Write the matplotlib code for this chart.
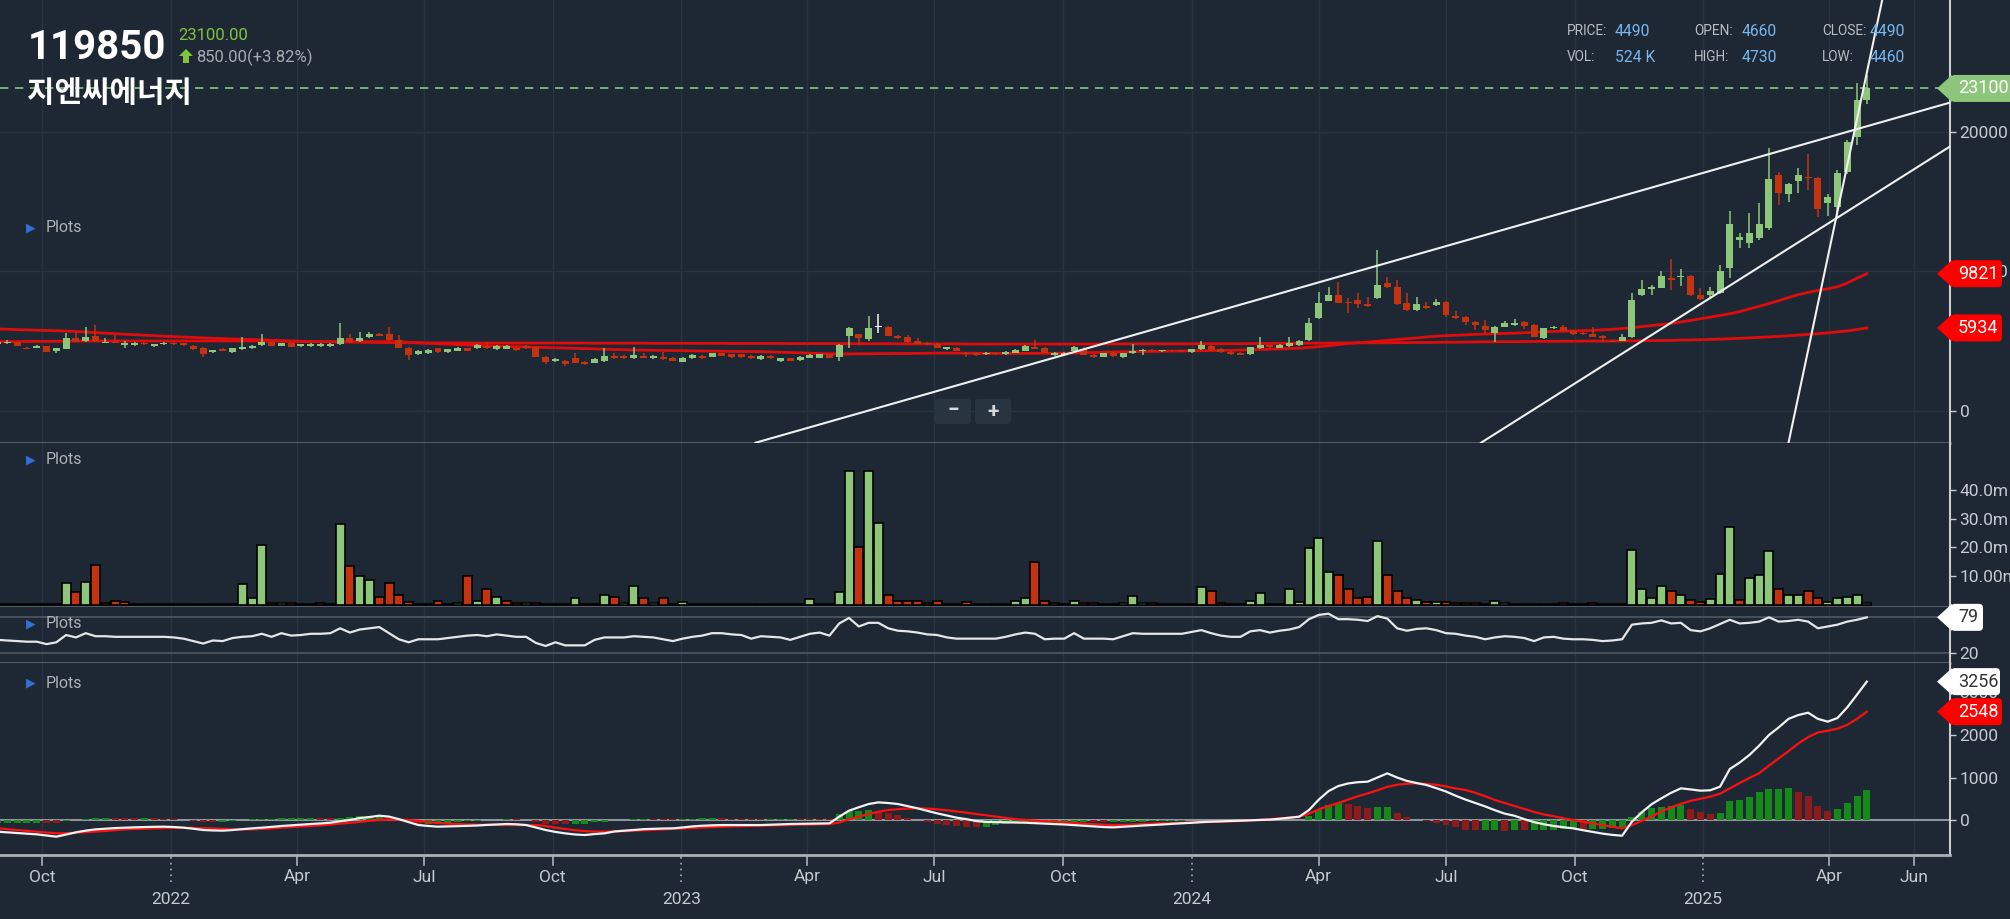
import numpy as np
import pandas as pd
import matplotlib
matplotlib.use("Agg")
import matplotlib.pyplot as plt
import matplotlib.dates as mdates
from matplotlib import font_manager
from matplotlib.patches import Polygon, FancyBboxPatch
from matplotlib.transforms import IdentityTransform, blended_transform_factory

# 119850 지엔씨에너지 - weekly candles, Aug 2021 .. Apr 2025
weeks = pd.date_range('2021-08-30', periods=192, freq='W-MON')
hover_week = pd.Timestamp('2023-05-22')

opens = [4760, 4830, 4900, 4520, 4520, 4610, 4300, 4420, 5190, 5000,
         5380, 4880, 4950, 4710, 4710, 4880, 4610, 4760, 4880, 4830,
         4640, 4520, 4210, 4450, 4230, 4420, 4470, 4710, 4900, 4660,
         4880, 4610, 4640, 4640, 4610, 4760, 5190, 5000, 5280, 5520,
         5470, 5070, 4520, 4060, 4140, 4470, 4210, 4300, 4470, 4470,
         4660, 4420, 4450, 4520, 4660, 4540, 3870, 3560, 3590, 3800,
         3510, 3440, 3540, 3950, 3950, 3750, 3950, 3750, 3830, 3800,
         3520, 3780, 3920, 3870, 4110, 4040, 4040, 3920, 3710, 3920,
         3560, 3750, 3630, 3800, 3800, 4040, 3870, 5380, 5470, 5120,
         6000, 6020, 5380, 5260, 5000, 4880, 4780, 4420, 4520, 4160,
         4160, 4060, 4160,
         4070, 4160, 4310, 4540, 4470, 4000, 3970, 4310, 4400, 4000,
         3880, 4160, 3830, 4120, 4280, 4350, 4260, 4280, 4300, 4210,
         4400, 4640, 4450, 4230, 4160, 4070, 4500, 4690, 4520, 4640,
         4710, 5070, 6670, 7890, 8270, 7770, 7940, 7650, 8060, 9130,
         8890, 7750, 7220, 7530, 7580, 7820, 6790, 6740, 6340, 6100,
         5600, 6030, 6170, 6340, 6150, 5190, 5910, 6030, 5740, 5600,
         5500, 5360, 5000, 5020, 5260, 8300, 8700, 8820, 9490, 9610,
         9660, 8270, 8270, 8420, 10210, 12240, 12050, 12360, 13070, 16900,
         15530, 16490, 16780, 16660, 14870, 14630, 17130, 19650, 22250]
highs = [4950, 5070, 4950, 4570, 4690, 4660, 4520, 5590, 5670, 6020,
         6140, 5190, 5430, 5000, 4950, 4930, 4810, 4950, 4950, 4880,
         4690, 4570, 4350, 4520, 4520, 5260, 4710, 5500, 4950, 4880,
         4930, 4810, 4830, 4830, 4850, 6260, 5500, 5620, 5670, 5570,
         6020, 5430, 4570, 4380, 4420, 4520, 4450, 4570, 4520, 4760,
         4950, 4710, 4710, 4570, 4710, 4590, 3920, 3780, 3640, 4110,
         3560, 3750, 4520, 4160, 4000, 4540, 4110, 3990, 4230, 3850,
         3850, 4040, 3970, 4160, 4160, 4090, 4090, 3970, 3970, 3970,
         3800, 3800, 3920, 4040, 4090, 4090, 4760, 6000, 5520, 6790,
         6910, 6100, 5450, 5430, 5190, 4930, 4830, 4590, 4570, 4230,
         4210, 4200, 4210,
         4260, 4450, 4710, 5070, 4550, 4180, 4180, 4640, 4590, 4050,
         4160, 4210, 4160, 4760, 4400, 4450, 4350, 4330, 4350, 4450,
         5000, 4710, 4500, 4280, 4210, 4590, 5260, 4740, 4760, 5260,
         5050, 6670, 8490, 8890, 9250, 8060, 8420, 8180, 11520, 9560,
         9370, 8420, 8180, 7820, 7990, 7890, 7170, 6790, 6400, 6500,
         6070, 6460, 6550, 6400, 6200, 5950, 6080, 6150, 5790, 5650,
         6030, 5410, 5050, 5500, 8420, 9370, 9010, 10040, 10880, 10140,
         9700, 8800, 8890, 10450, 14320, 12720, 14200, 14870, 18810, 17140,
         16300, 17370, 18400, 16780, 15530, 17250, 19400, 23470, 24060]
lows = [4710, 4780, 4620, 4400, 4470, 4180, 4110, 4400, 4900, 4950,
        4950, 4850, 4850, 4520, 4660, 4710, 4570, 4710, 4710, 4660,
        4380, 3830, 4160, 4280, 4160, 4380, 4420, 4660, 4610, 4620,
        4540, 4570, 4590, 4590, 4570, 4710, 4850, 4950, 5230, 5330,
        5000, 4470, 3630, 4020, 4090, 4140, 4160, 4260, 4260, 4420,
        4420, 4380, 4400, 4280, 4420, 3850, 3320, 3510, 3230, 3400,
        3300, 3400, 3490, 3710, 3730, 3710, 3760, 3710, 3640, 3540,
        3470, 3730, 3700, 3830, 3900, 3800, 3800, 3700, 3660, 3700,
        3510, 3540, 3590, 3750, 3750, 3750, 3560, 4520, 4710, 5000,
        5540, 5350, 5140, 4850, 4780, 4710, 4470, 4380, 4260, 3870,
        3950, 4010, 3990,
        4020, 4110, 4260, 4400, 4110, 3950, 3920, 4260, 3970, 3780,
        3830, 3880, 3780, 4070, 3990, 4230, 4210, 4210, 4210, 4160,
        4350, 4300, 4160, 4020, 3970, 4020, 4450, 4500, 4470, 4590,
        4660, 5020, 6600, 7840, 7700, 6980, 7340, 7460, 7990, 8800,
        7600, 7170, 7170, 7300, 7530, 6740, 6600, 6150, 5790, 5550,
        4950, 5980, 6100, 5840, 5260, 5140, 5860, 5690, 5450, 5450,
        5260, 4950, 4900, 4970, 5210, 8250, 8300, 8770, 8660, 8940,
        8250, 7940, 8060, 8370, 9490, 11640, 11640, 12240, 12950, 14750,
        14990, 15580, 15820, 13910, 13960, 13910, 17000, 19040, 21980]
closes = [4900, 4950, 4660, 4420, 4640, 4180, 4470, 5190, 4950, 5280,
          5000, 4950, 4880, 4880, 4880, 4760, 4760, 4880, 4760, 4710,
          4420, 4060, 4330, 4300, 4520, 4570, 4660, 4900, 4660, 4850,
          4590, 4760, 4780, 4780, 4800, 5190, 4900, 5190, 5520, 5380,
          5040, 4520, 3990, 4300, 4380, 4180, 4400, 4520, 4300, 4710,
          4470, 4660, 4660, 4330, 4470, 3870, 3470, 3730, 3370, 3440,
          3350, 3710, 3900, 3750, 3780, 3990, 3800, 3950, 3680, 3560,
          3800, 3990, 3750, 4110, 3950, 3850, 3850, 3750, 3920, 3750,
          3750, 3590, 3870, 3990, 4040, 3800, 4710, 5900, 5240, 5900,
          6050, 5380, 5190, 4900, 4810, 4760, 4520, 4540, 4300, 4040,
          3990, 4160, 4040,
          4210, 4350, 4640, 4450, 4160, 4120, 4120, 4540, 4020, 3830,
          4120, 3920, 4120, 4280, 4300, 4280, 4300, 4250, 4260, 4400,
          4690, 4350, 4210, 4070, 4020, 4540, 4710, 4540, 4710, 4830,
          5000, 6270, 7750, 8270, 7750, 7700, 7680, 7510, 9010, 8850,
          7650, 7220, 7650, 7360, 7770, 6860, 6670, 6340, 6120, 5790,
          6030, 6270, 6270, 6100, 5310, 5910, 6030, 5740, 5500, 5500,
          5310, 5190, 4950, 5310, 7940, 8700, 8850, 9660, 9370, 9660,
          8300, 7990, 8610, 10020, 13360, 12480, 12720, 13360, 16590, 15630,
          16250, 16900, 16660, 14460, 15300, 17010, 19290, 22250, 23100]

# volume in millions of shares
volumes = [0.5, 0.5, 0.4, 0.5, 0.5, 0.4, 0.4, 7.5, 4.4, 8.1,
           13.9, 0.8, 1.5, 0.9, 0.4, 0.4, 0.4, 0.4, 0.4, 0.4,
           0.4, 0.4, 0.2, 0.2, 0.4, 7.2, 2.3, 20.7, 0.8, 0.8,
           0.8, 0.4, 0.4, 0.8, 0.4, 28.1, 13.4, 10.2, 8.7, 2.9,
           7.5, 3.5, 1.2, 0.4, 0.4, 1.4, 0.4, 0.8, 10.2, 1.4,
           5.6, 2.9, 1.3, 0.8, 0.8, 0.8, 0.4, 0.2, 0.2, 2.5,
           0.2, 0.4, 3.5, 2.9, 0.6, 6.6, 2.5, 0.8, 2.5, 0.4,
           0.9, 0.4, 0.4, 0.4, 0.4, 0.4, 0.4, 0.2, 0.4, 0.4,
           0.4, 0.2, 0.4, 2.0, 0.4, 0.4, 4.4, 46.4, 20.3, 46.4,
           28.4, 3.3, 1.3, 1.3, 1.3, 0.8, 1.5, 0.4, 0.4, 0.9,
           0.4, 0.4, 0.4,
           0.4, 1.4, 2.5, 15.1, 1.4, 0.6, 0.4, 1.4, 0.8, 0.8,
           0.4, 0.4, 0.8, 3.1, 0.8, 0.8, 0.4, 0.4, 0.2, 0.4,
           6.2, 5.0, 0.8, 0.4, 0.2, 1.4, 4.1, 0.4, 0.4, 5.6,
           1.2, 19.7, 23.4, 11.4, 10.5, 5.6, 2.3, 2.9, 22.3, 10.5,
           5.0, 2.3, 1.8, 1.2, 1.2, 1.2, 0.8, 0.8, 0.8, 0.4,
           1.4, 0.8, 0.4, 0.4, 0.4, 0.4, 0.4, 0.8, 0.4, 0.4,
           0.8, 0.4, 0.4, 0.4, 19.1, 5.6, 2.3, 6.7, 4.7, 3.5,
           1.8, 1.2, 2.0, 10.8, 27.0, 1.8, 9.3, 10.5, 18.6,
           5.6, 3.5, 3.5, 5.0, 2.3, 1.2, 2.3, 2.9, 3.5, 0.8]

ma_short = [4950, 4950, 4960, 4960, 4970, 4970, 4980, 4980, 4990, 4990,
            5000, 5000, 5000, 5000, 5000, 5000, 5000, 5000, 5000, 5000,
            5000, 5000, 5000, 5000, 5000, 5000, 5000, 5000, 4990, 4980,
            4970, 4960, 4950, 4950, 4950, 4950, 4950, 4950, 4950, 4950,
            4950, 4950, 4900, 4860, 4830, 4800, 4770, 4740, 4710, 4690,
            4660, 4640, 4610, 4590, 4570, 4550, 4530, 4510, 4490, 4470,
            4450, 4430, 4410, 4390, 4370, 4350, 4340, 4330, 4320, 4310,
            4300, 4290, 4280, 4270, 4260, 4250, 4240, 4240, 4230, 4210,
            4190, 4170, 4150, 4120, 4100, 4080, 4070, 4070, 4080, 4080,
            4090, 4090, 4100, 4100, 4110, 4120, 4130, 4130, 4130, 4120,
            4120, 4110, 4110,
            4110, 4110, 4110, 4110, 4110, 4120, 4130, 4140, 4160, 4170,
            4190, 4210, 4220, 4230, 4240, 4250, 4260, 4270, 4280, 4290,
            4300, 4310, 4320, 4330, 4350, 4370, 4390, 4410, 4430, 4460,
            4490, 4530, 4590, 4660, 4740, 4820, 4870, 4920, 4980, 5040,
            5100, 5160, 5220, 5290, 5340, 5380, 5410, 5440, 5470, 5500,
            5520, 5540, 5560, 5590, 5610, 5660, 5680, 5700, 5720, 5740,
            5760, 5800, 5830, 5890, 5950, 6030, 6100, 6180, 6260, 6360,
            6480, 6590, 6710, 6830, 6950, 7100, 7300, 7480, 7680, 7890,
            8110, 8320, 8480, 8620, 8740, 8880, 9150, 9500, 9821]
ma_long = [5860, 5840, 5810, 5790, 5770, 5750, 5730, 5710, 5680, 5640,
           5600, 5560, 5520, 5480, 5450, 5410, 5380, 5340, 5310, 5280,
           5250, 5220, 5190, 5170, 5140, 5120, 5100, 5080, 5050, 5020,
           5000, 4980, 4960, 4950, 4940, 4930, 4920, 4910, 4900, 4890,
           4880, 4880, 4870, 4870, 4860, 4860, 4860, 4860, 4850, 4850,
           4850, 4850, 4850, 4850, 4850, 4850, 4850, 4850, 4850, 4850,
           4850, 4840, 4840, 4840, 4840, 4840, 4840, 4830, 4830, 4830,
           4830, 4830, 4830, 4830, 4830, 4820, 4820, 4820, 4820, 4820,
           4820, 4810, 4810, 4810, 4810, 4810, 4810, 4800, 4800, 4800,
           4800, 4800, 4800, 4790, 4790, 4790, 4790, 4790, 4790, 4780,
           4780, 4780, 4780,
           4780, 4780, 4780, 4780, 4780, 4780, 4780, 4780, 4780, 4780,
           4790, 4790, 4790, 4790, 4790, 4790, 4790, 4790, 4790, 4790,
           4800, 4800, 4800, 4800, 4800, 4810, 4820, 4820, 4830, 4830,
           4830, 4840, 4840, 4850, 4850, 4860, 4860, 4870, 4870, 4870,
           4880, 4880, 4890, 4890, 4900, 4910, 4910, 4920, 4930, 4940,
           4940, 4950, 4950, 4960, 4960, 4970, 4970, 4980, 4980, 4990,
           4990, 4990, 5000, 5000, 5000, 5010, 5020, 5030, 5040, 5060,
           5070, 5090, 5110, 5130, 5160, 5190, 5220, 5260, 5290, 5330,
           5370, 5420, 5470, 5520, 5580, 5650, 5720, 5820, 5934]

rsi = [42, 41, 40, 39, 39, 35, 38, 50, 46, 53,
       48, 48, 47, 47, 47, 47, 47, 47, 46, 44,
       40, 36, 41, 40, 45, 47, 48, 52, 47, 53,
       49, 50, 52, 52, 53, 61, 54, 59, 61, 63,
       53, 43, 38, 43, 43, 43, 45, 47, 49, 50,
       48, 51, 49, 47, 47, 37, 32, 38, 33, 33,
       33, 42, 46, 46, 46, 48, 47, 46, 43, 40,
       44, 47, 49, 53, 53, 51, 50, 44, 48, 47,
       46, 42, 47, 52, 54, 49, 69, 78, 64, 70,
       70, 61, 57, 56, 54, 51, 50, 46, 44, 44,
       44, 44, 44,
       47, 51, 54, 52, 43, 44, 44, 53, 44, 44,
       44, 43, 48, 53, 52, 52, 52, 52, 52, 55,
       58, 53, 49, 47, 47, 56, 58, 54, 57, 59,
       63, 76, 83, 85, 76, 76, 75, 73, 81, 77,
       61, 57, 60, 61, 58, 53, 52, 49, 47, 43,
       46, 48, 47, 45, 40, 46, 47, 44, 43, 43,
       42, 40, 41, 43, 67, 69, 70, 74, 69, 70,
       58, 56, 61, 68, 75, 69, 70, 72, 79, 72,
       73, 75, 72, 61, 64, 67, 72, 75, 79]

macd = [-275, -290, -305, -320, -337, -365, -392, -340, -290, -250,
        -220, -205, -190, -180, -172, -165, -160, -157, -165, -180,
        -205, -235, -245, -251, -235, -215, -196, -180, -160, -141,
        -125, -110, -94, -80, -63, -30, 0, 45, 70, 102,
        80, 20, -50, -118, -140, -157, -150, -143, -138, -130,
        -115, -105, -94, -100, -118, -175, -235, -280, -314, -340,
        -353, -330, -314, -270, -251, -235, -215, -207, -200, -196,
        -175, -150, -135, -125, -118, -118, -118, -118, -118, -110,
        -100, -94, -90, -85, -80, -78, 78, 220, 300, 376,
        415, 400, 376, 325, 275, 215, 157, 105, 55, 20,
        -24, -45, -50,
        -55, -60, -63, -75, -85, -94, -105, -120, -133, -150,
        -165, -173, -160, -145, -130, -118, -105, -90, -78, -65,
        -50, -39, -32, -25, -16, -8, 0, 10, 30, 55,
        78, 235, 480, 680, 800, 860, 890, 902, 1000, 1098,
        1000, 920, 870, 824, 750, 670, 570, 480, 400, 320,
        230, 150, 100, 20, -50, -100, -140, -170, -196, -240,
        -280, -320, -350, -369, -39, 180, 370, 510, 640, 745,
        720, 690, 700, 784, 1200, 1350, 1530, 1750, 2000, 2180,
        2380, 2470, 2525, 2380, 2314, 2400, 2650, 2950, 3256]
macd_signal = [-196, -215, -235, -255, -275, -295, -314, -310, -300, -285,
               -272, -258, -240, -220, -210, -203, -196, -190, -185, -180,
               -185, -192, -200, -210, -215, -220, -220, -210, -195, -180,
               -165, -150, -141, -125, -105, -85, -65, -45, -20, 0,
               10, 5, 0, -20, -45, -70, -85, -95, -105, -110,
               -113, -116, -118, -118, -118, -118, -140, -180, -210, -240,
               -260, -272, -275, -270, -262, -251, -240, -230, -220, -210,
               -200, -185, -176, -167, -158, -150, -143, -138, -133, -128,
               -123, -117, -112, -106, -100, -94, -60, 16, 80, 140,
               195, 235, 255, 270, 275, 270, 251, 230, 200, 173,
               140, 110, 78,
               50, 20, 0, -15, -30, -39, -55, -70, -85, -100,
               -110, -118, -115, -105, -95, -85, -78, -70, -63, -55,
               -48, -42, -36, -30, -24, -10, 5, 20, 40, 60,
               78, 150, 250, 330, 400, 480, 560, 627, 700, 780,
               830, 855, 863, 850, 830, 790, 740, 706, 640, 560,
               470, 400, 330, 260, 190, 130, 90, 40, 0, -40,
               -80, -120, -157, -196, -120, -20, 80, 200, 300, 380,
               450, 500, 550, 620, 745, 870, 990, 1100, 1280, 1450,
               1620, 1800, 1950, 2060, 2100, 2150, 2240, 2380, 2548]

# hand drawn trend lines: (start date, price, end date, price)
trend_lines = [('2023-02-23', -2300, '2025-06-27', 22100),
               ('2024-07-26', -2300, '2025-06-27', 18970),
               ('2025-03-03', -2300, '2025-05-09', 29440)]

axis_ticks = ['2021-10-01', '2022-01-01', '2022-04-01', '2022-07-01', '2022-10-01',
              '2023-01-01', '2023-04-01', '2023-07-01', '2023-10-01', '2024-01-01',
              '2024-04-01', '2024-07-01', '2024-10-01', '2025-01-01', '2025-04-01',
              '2025-06-01']
axis_labels = ['Oct', '2022', 'Apr', 'Jul', 'Oct', '2023', 'Apr', 'Jul', 'Oct', '2024',
               'Apr', 'Jul', 'Oct', '2025', 'Apr', 'Jun']

W, H = 2010, 919
BG = '#1d2834'
GRID = '#283441'
SEP = '#5a636d'
AXIS = '#c9cdd2'
TXT = '#c6cacf'
GREEN = '#8dc67b'
RED = '#c3330f'
MA_RED = '#e00c0c'

names = {f.name for f in font_manager.fontManager.ttflist}
NARROW = 'Liberation Sans Narrow' if 'Liberation Sans Narrow' in names else None
plt.rcParams['font.family'] = ['Roboto', 'DejaVu Sans']

px = IdentityTransform()

fig = plt.figure(figsize=(W / 100, H / 100), dpi=100, facecolor=BG)


def panel(top, bottom):
    return fig.add_axes([0, 1 - bottom / H, 1950 / W, (bottom - top) / H], facecolor=BG)


ax_p = panel(0, 443)
ax_v = panel(443, 607)
ax_r = panel(607, 663)
ax_m = panel(663, 855)

x = mdates.date2num(weeks)
xl = mdates.date2num(pd.Timestamp('2021-08-31 17:00'))
xr = mdates.date2num(pd.Timestamp('2025-06-26 12:00'))
tick_x = mdates.date2num(pd.to_datetime(axis_ticks))

o = np.array(opens, float)
hi = np.array(highs, float)
lo = np.array(lows, float)
c = np.array(closes, float)

for ax in (ax_p, ax_v, ax_r, ax_m):
    ax.set_xlim(xl, xr)
    ax.spines['left'].set_visible(False)
    ax.spines['top'].set_visible(False)
    ax.spines['right'].set_color(AXIS)
    ax.spines['right'].set_linewidth(1.5)
    ax.spines['bottom'].set_color(SEP)
    ax.spines['bottom'].set_linewidth(2)
    ax.yaxis.tick_right()
    ax.tick_params(axis='y', direction='out', length=4, width=1, color=AXIS,
                   labelcolor=TXT, labelsize=12.5, pad=3)
    ax.tick_params(axis='x', bottom=False, labelbottom=False)
    for d in tick_x:
        ax.axvline(d, color=GRID, lw=1, zorder=0)
ax_m.spines['bottom'].set_color('#aab0b6')

# ---- price panel
ax_p.set_ylim(-2315, 29440)
ax_p.set_yticks([0, 10000, 20000])
for v in (0, 10000, 20000):
    ax_p.axhline(v, color=GRID, lw=1, zorder=0)

ax_p.plot(x, ma_short, color=MA_RED, lw=2, zorder=2)
ax_p.plot(x, ma_long, color=MA_RED, lw=2, zorder=2)

colors = np.where(c >= o, GREEN, RED).astype(object)
colors[weeks == hover_week] = '#f4f4f4'
ax_p.vlines(x, lo, hi, colors=colors, lw=1.1, zorder=3)
ax_p.bar(x, np.maximum(np.abs(c - o), 60), bottom=np.minimum(o, c), width=5,
         color=colors, lw=0, zorder=3)

for d0, p0, d1, p1 in trend_lines:
    ax_p.plot(mdates.date2num(pd.to_datetime([d0, d1])), [p0, p1],
              color='#f0f0f0', lw=1.5, zorder=4)

ax_p.axhline(c[-1], color=GREEN, lw=1.2, ls=(0, (5, 4)), zorder=2)

# ---- volume panel
vcol = [GREEN if (c[i] > c[i - 1] if i else c[i] >= o[i]) else RED for i in range(len(c))]
ax_v.bar(x, volumes, width=6.4, color=vcol, edgecolor='black', lw=1.2, zorder=2)
ax_v.set_ylim(-0.7, 56.3)
ax_v.set_yticks([10, 20, 30, 40])
ax_v.set_yticklabels(['10.00m', '20.0m', '30.0m', '40.0m'])

# ---- RSI panel
ax_r.set_ylim(4, 96)
for v in (20, 80):
    ax_r.axhline(v, color='#4b5561', lw=1.3, zorder=1)
ax_r.plot(x, rsi, color='#e6e6e6', lw=1.6, zorder=3)
ax_r.set_yticks([20, 80])

# ---- MACD panel
m = np.array(macd, float)
s = np.array(macd_signal, float)
hist = m - s
hcol = ['#17891a' if (i == 0 or hist[i] >= hist[i - 1]) else '#8e1b1b' for i in range(len(hist))]
ax_m.set_ylim(-823, 3694)
ax_m.axhline(0, color='#8d949b', lw=1.5, zorder=1)
ax_m.bar(x, hist, width=5, color=hcol, lw=0, zorder=2)
ax_m.plot(x, s, color='#ff1010', lw=1.6, zorder=3)
ax_m.plot(x, m, color='#f2f2f2', lw=1.6, zorder=4)
ax_m.set_yticks([0, 1000, 2000, 3000])

# date axis under the MACD panel
tr = blended_transform_factory(ax_m.transData, px)
for d, lab in zip(tick_x, axis_labels):
    if lab.isdigit():
        ax_m.plot([d, d], [H - 857, H - 883], transform=tr, color='#aab0b6', lw=1.2,
                  ls=(0, (1, 2.5)), clip_on=False)
        ax_m.text(d, H - 899, lab, transform=tr, color=TXT, fontsize=12.5,
                  ha='center', va='center')
    else:
        ax_m.plot([d, d], [H - 856, H - 865], transform=tr, color='#aab0b6', lw=1.2,
                  clip_on=False)
        ax_m.text(d, H - 877, lab, transform=tr, color=TXT, fontsize=12.5,
                  ha='center', va='center')


# value tags on the right edge
def tag(ax, value, label, face, fg, right):
    yc = ax.transData.transform((xl, value))[1]
    fig.add_artist(Polygon([(1937, yc), (1952, yc + 13.5), (1952, yc - 13.5)],
                           closed=True, transform=px, facecolor=face, lw=0, zorder=10))
    fig.add_artist(FancyBboxPatch((1951, yc - 13.5), right - 1951, 27,
                                  boxstyle='round,pad=0,rounding_size=4', transform=px,
                                  facecolor=face, lw=0, zorder=10))
    fig.text(1958, yc, label, transform=px, color=fg, fontsize=13, ha='left',
             va='center', zorder=11)


tag(ax_p, c[-1], f'{c[-1]:.2f}', GREEN, 'white', 2030)
tag(ax_p, ma_short[-1], f'{ma_short[-1]:.0f}', '#ff0000', 'white', 2002)
tag(ax_p, ma_long[-1], f'{ma_long[-1]:.0f}', '#ff0000', 'white', 2002)
tag(ax_r, rsi[-1], f'{rsi[-1]:.0f}', 'white', '#333333', 1983)
tag(ax_m, m[-1], f'{m[-1]:.0f}', 'white', '#333333', 2000)
tag(ax_m, s[-1], f'{s[-1]:.0f}', '#ff0000', 'white', 2002)

# header
chg = c[-1] - c[-2]
fig.text(28, H - 48, '119850', transform=px, color='white', fontsize=34 if NARROW else 29,
         fontweight='bold', family=NARROW or 'Roboto', ha='left', va='center')
fig.text(178, H - 36, f'{c[-1]:.2f}', transform=px, color='#7fc43c', fontsize=12,
         ha='left', va='center')
fig.text(196, H - 57, f'{chg:.2f}(+{chg / c[-2] * 100:.2f}%)', transform=px, color='#a7abaf',
         fontsize=12, ha='left', va='center')
fig.add_artist(Polygon([(186, H - 49), (193, H - 56), (189, H - 56), (189, H - 63),
                        (183, H - 63), (183, H - 56), (179, H - 56)],
                       closed=True, transform=px, facecolor='#7fc43c', lw=0))
fig.text(27, H - 93, '지엔씨에너지', transform=px, color='white', fontsize=21.5,
         family=['Noto Sans CJK KR', 'DejaVu Sans'], fontweight='bold', ha='left', va='center')

info = [('PRICE:', '4490', 1567, 31), ('OPEN:', '4660', 1694, 31), ('CLOSE:', '4490', 1822, 31),
        ('VOL:', '524 K', 1567, 57), ('HIGH:', '4730', 1694, 57), ('LOW:', '4460', 1822, 57)]
for lab, val, ix, iy in info:
    fig.text(ix, H - iy, lab, transform=px, color='#b9bdc1', fontsize=11 if NARROW else 9.8,
             family=NARROW or 'Roboto', ha='left', va='center')
    fig.text(ix + 48, H - iy, val, transform=px, color='#78b6ee', fontsize=12 if NARROW else 11.3,
             family=NARROW or 'Roboto', ha='left', va='center')

# "Plots" handles
for py in (228, 460, 624, 683):
    fig.text(26, H - py, '▶', transform=px, color='#2f6fd6', fontsize=9,
             family='DejaVu Sans', ha='left', va='center')
    fig.text(46, H - py, 'Plots', transform=px, color='#aeb2b6', fontsize=11.5,
             ha='left', va='center')

# zoom buttons
for bx, sym in ((935, '−'), (975, '+')):
    fig.add_artist(FancyBboxPatch((bx, H - 424), 36, 25, boxstyle='round,pad=0,rounding_size=3',
                                  transform=px, facecolor='#283440', lw=0))
    fig.text(bx + 18, H - 411, sym, transform=px, color='#d8dadc', fontsize=15,
             fontweight='bold', ha='center', va='center')

fig.savefig('out.png', dpi=100, facecolor=BG)
